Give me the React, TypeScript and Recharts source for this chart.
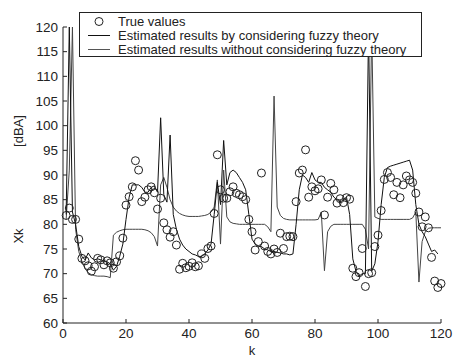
import { ComposedChart, Line, XAxis, YAxis } from "recharts";

// k = 1..120
const trueValues = [
  81.8, 83.3, 81, 81, 77, 73.1, 72.6, 71.6, 70.5, 71.4,
  73.1, 72.8, 71.8, 72.6, 72.2, 71.1, 72.4, 73.6, 77.2, 83.9,
  85.6, 87.6, 92.9, 91, 84.6, 85.5, 87, 87.6, 86.4, 83.1,
  85.3, 80.3, 78.9, 77.4, 78.5, 75.8, 70.9, 72.1, 71.2, 71.5,
  72.2, 71.4, 71.6, 74, 73.1, 75.1, 75.6, 82.2, 94.1, 87,
  85.3, 85.3, 86.6, 87.6, 86.3, 86, 85.6, 85, 81, 78.5,
  74.8, 76.5, 90.4, 75.6, 74.5, 74, 75, 74.3, 78.2, 75.1,
  77.5, 77.6, 77.5, 84.6, 90.4, 91, 95.1, 85.5, 87.6, 86.8,
  87.2, 89, 81.9, 85.5, 88.3, 87, 84.3, 85.2, 84.4, 85.4,
  85.1, 71.1, 69.4, 70.2, 75.1, 67.4, 70, 70.2, 75.5, 77.8,
  82.8, 89.1, 90.5, 89.5, 86, 88.5, 85.4, 88, 89.8, 89,
  88.5, 86.3, 82.5, 79.5, 81.5, 79.3, 73.3, 68.5, 67.2, 68,
];

const withFuzzy = [
  82, 120, 82.5, 80, 75.5, 73.5, 72.8, 74.2, 73.2, 72.8,
  73, 72.8, 72.6, 72.4, 72, 70.7, 71.5, 73.5, 76, 81,
  85.5, 88, 88, 88, 87.5, 86.5, 86.5, 87.5, 87.8, 86.5,
  101.6, 86, 84.5, 98.1, 82, 79, 77, 75.8, 75, 74.5,
  74, 73.8, 73.5, 73.5, 74, 74.8, 76, 82, 88.5, 84,
  97, 88, 90.5, 91, 90.5, 89.5, 88.5, 87, 82, 77,
  76, 75.5, 75.5, 75, 74.8, 74.5, 74.5, 74.3, 74.2, 74,
  74, 73.8, 74, 80, 87, 90, 89.5, 88.5, 90.5, 89,
  88.5, 88.5, 87.5, 87, 86.5, 85.5, 85, 84.5, 85, 85.5,
  82, 73, 70.5, 69.5, 70, 70, 120, 70.5, 72, 76.5,
  84, 89.5, 91.5, 91.8, 92, 92.2, 92.4, 92.6, 92.8, 93,
  91, 84, 80, 78.5, 77.5, 76, 74.5, 74.8, 74, null,
];

const withoutFuzzy = [
  81, 91, 120, 79, 74.5, 72.5, 71, 70.2, 69.8, 69.6,
  69.5, 69.5, 69.5, 69.4, 69.2, 77.8, 78.4, 78.7, 78.9, 79,
  79, 79, 79, 79, 79, 78.9, 78.7, 78.3, 77.5, 75.6,
  88, 89.5, 87.5, 85, 83.5, 82.7, 82.2, 81.9, 81.7, 81.6,
  81.6, 81.6, 81.6, 81.7, 81.8, 82, 82.5, 83.5, 89, 76,
  91, 81.5, 80.5, 80.2, 80.1, 80, 80, 80, 80, 80,
  80, 80, 80, 80, 79.5, 78.5, 106, 83.5, 81.8, 81.2,
  81, 80.9, 80.9, 80.9, 80.9, 80.9, 80.9, 80.9, 80.9, 80.9,
  81, 82.5, 70.6, 78.5, 79.6, 80, 80, 80, 80, 80,
  80, 80, 80, 80, 80, 79, 75, 120, 81.5, 81.2,
  81, 81, 81, 81, 81, 81, 81, 81, 81, 81,
  81.3, 82.5, 68.3, 76.5, 78.5, 79.2, 79.3, 79.3, 79.3, 79.3,
];

const xTicks = [0, 20, 40, 60, 80, 100, 120];
const yTicks = [60, 65, 70, 75, 80, 85, 90, 95, 100, 105, 110, 115, 120];

const legendItems = [
  "True values",
  "Estimated results by considering fuzzy theory",
  "Estimated results without considering fuzzy theory",
];

const rows = trueValues.map((v, i) => ({
  k: i + 1,
  truth: v,
  fuzzy: withFuzzy[i],
  plain: withoutFuzzy[i],
}));

const font = "'Liberation Sans', Arial, sans-serif";
const ink = "#222";

export default function App() {
  return (
    <div style={{ position: "absolute", left: 0, top: 0, width: 456, height: 357, background: "#fff" }}>
      <ComposedChart
        width={456}
        height={357}
        data={rows}
        margin={{ top: 27, right: 15, bottom: 0, left: 0 }}
      >
        <XAxis
          dataKey="k"
          type="number"
          domain={[0, 120]}
          ticks={xTicks}
          height={34}
          tickSize={-4}
          tickMargin={9}
          stroke={ink}
          tick={{ fill: ink, fontSize: 13.5, fontFamily: font }}
        />
        <YAxis
          type="number"
          domain={[60, 120]}
          ticks={yTicks}
          width={63}
          tickSize={-4}
          tickMargin={9}
          stroke={ink}
          tick={{ fill: ink, fontSize: 13.5, fontFamily: font }}
        />
        <Line
          dataKey="plain"
          stroke="#444"
          strokeWidth={1}
          dot={false}
          isAnimationActive={false}
        />
        <Line
          dataKey="fuzzy"
          stroke="#111"
          strokeWidth={1}
          dot={false}
          isAnimationActive={false}
        />
        <Line
          dataKey="truth"
          stroke="none"
          dot={{ r: 4, stroke: ink, strokeWidth: 1, fill: "none" }}
          isAnimationActive={false}
        />
      </ComposedChart>
      <svg
        width={456}
        height={357}
        style={{ position: "absolute", left: 0, top: 0, pointerEvents: "none" }}
        fontFamily={font}
      >
        <rect x={79.5} y={12.5} width={342} height={44} fill="#fff" stroke={ink} />
        <circle cx={99} cy={21.5} r={4} fill="none" stroke={ink} />
        <line x1={88} x2={110} y1={35.5} y2={35.5} stroke="#111" />
        <line x1={88} x2={110} y1={49.5} y2={49.5} stroke="#555" />
        {legendItems.map((t, i) => (
          <text key={t} x={118} y={26 + i * 14} fontSize={13} fill={ink}>
            {t}
          </text>
        ))}
        <text x={18} y={131} fontSize={13} fill={ink} textAnchor="middle" dominantBaseline="central" transform="rotate(-90 18 131)">
          [dBA]
        </text>
        <text x={18} y={236} fontSize={13} fill={ink} textAnchor="middle" dominantBaseline="central" transform="rotate(-90 18 236)">
          Xk
        </text>
        <text x={252} y={355} fontSize={13} fill={ink} textAnchor="middle">
          k
        </text>
      </svg>
    </div>
  );
}
